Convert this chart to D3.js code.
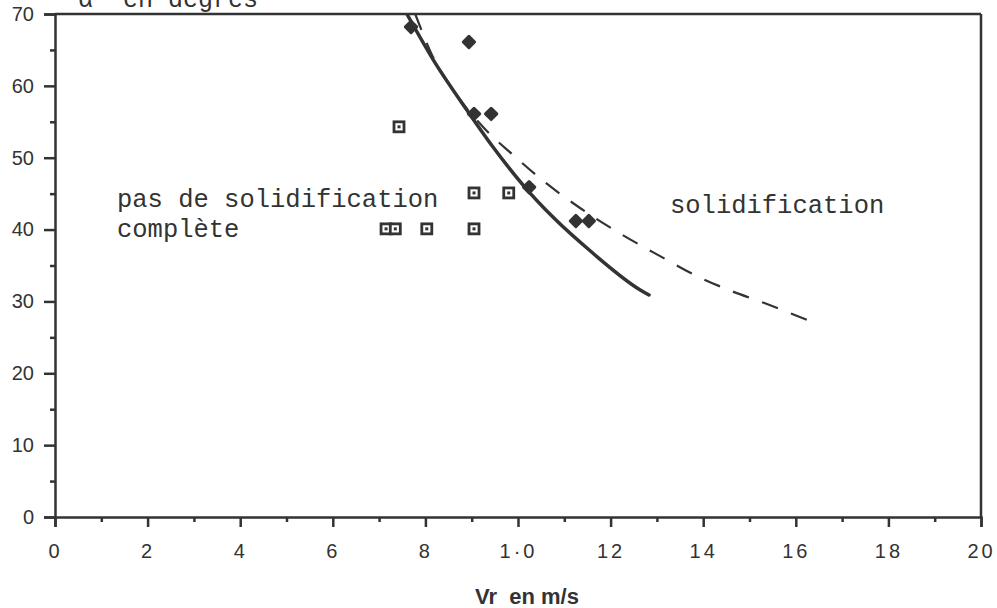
<!DOCTYPE html>
<html>
<head>
<meta charset="utf-8">
<script src="https://cdn.jsdelivr.net/npm/d3@7"></script>
<style>
  body { margin: 0; background: #fff; }
  svg { display: block; }
</style>
</head>
<body>
<div id="chart"></div>
<script>
// values
const xTickValues = [0, 2, 4, 6, 8, 10, 12, 14, 16, 18, 20]
const xTickLabels = ['0', '2', '4', '6', '8', '1·0', '12', '14', '16', '18', '20']
const yTickValues = [0, 10, 20, 30, 40, 50, 60, 70]

// open squares: no complete solidification
const squareV = [7.43, 9.05, 9.8, 7.15, 7.35, 8.03, 9.05]
const squareA = [54.3, 45.1, 45.1, 40.1, 40.1, 40.1, 40.1]

// filled diamonds: solidification
const diamondV = [7.69, 8.94, 9.05, 9.42, 10.24, 11.25, 11.53]
const diamondA = [68.2, 66.1, 56.1, 56.1, 45.9, 41.2, 41.2]

// solid curve
const solidV = [7.6, 8.2, 8.9, 9.46, 10.11, 10.76, 11.62, 12.64, 12.83]
const solidA = [70.0, 63.3, 56.6, 51.5, 46.2, 41.7, 36.7, 31.6, 30.9]

// dashed curve
const dashV = [7.78, 8.15, 8.6, 9.27, 9.89, 10.54, 11.34, 12.22, 13.07, 13.84, 14.55, 15.35, 16.41]
const dashA = [70.0, 64.2, 59.4, 54.1, 50.4, 46.8, 43.0, 39.4, 36.3, 33.6, 31.6, 29.7, 27.0]

const W = 997, H = 608
const ink = '#333'

let svg = d3.select('#chart').append('svg')
    .attr('width', W)
    .attr('height', H)

let x = d3.scaleLinear().domain([0, 20]).range([55, 981])
let y = d3.scaleLinear().domain([0, 70]).range([517, 14])

svg.append('clipPath').attr('id', 'plot')
    .append('rect')
    .attr('x', x(0)).attr('y', y(70))
    .attr('width', x(20) - x(0)).attr('height', y(0) - y(70))

// frame: top and right border
svg.append('line')
    .attr('x1', x(0)).attr('x2', x(20))
    .attr('y1', y(70)).attr('y2', y(70))
    .attr('stroke', ink).attr('stroke-width', 2.5)
svg.append('line')
    .attr('x1', x(20)).attr('x2', x(20))
    .attr('y1', y(70)).attr('y2', y(0))
    .attr('stroke', ink).attr('stroke-width', 2.5)

// minor ticks first
let xMinor = d3.axisBottom(x).tickValues(d3.range(1, 20, 2)).tickSize(5).tickFormat('')
svg.append('g').attr('class', 'xminor')
    .attr('transform', `translate(0,${y(0)})`)
    .call(xMinor)
let yMinor = d3.axisLeft(y).tickValues(d3.range(5, 70, 10)).tickSize(5).tickFormat('')
svg.append('g').attr('class', 'yminor')
    .attr('transform', `translate(${x(0)},0)`)
    .call(yMinor)

let xAxis = d3.axisBottom(x).tickValues(xTickValues).tickSize(10).tickPadding(17)
    .tickFormat((d, i) => xTickLabels[i])
let gx = svg.append('g')
    .attr('transform', `translate(0,${y(0)})`)
    .call(xAxis)
gx.selectAll('text')
    .attr('font-family', 'Liberation Sans, Arial, sans-serif')
    .attr('font-size', 20)
    .attr('letter-spacing', 3)
    .attr('fill', ink)

let yAxis = d3.axisLeft(y).tickValues(yTickValues).tickSize(11).tickPadding(10)
let gy = svg.append('g')
    .attr('transform', `translate(${x(0)},0)`)
    .call(yAxis)
gy.selectAll('text')
    .attr('font-family', 'Liberation Sans, Arial, sans-serif')
    .attr('font-size', 20)
    .attr('fill', ink)

svg.selectAll('.domain').attr('stroke', ink).attr('stroke-width', 2.5)
svg.selectAll('.tick line').attr('stroke', ink).attr('stroke-width', 2.5)
svg.selectAll('.xminor .domain, .yminor .domain').remove()

// curves
let solidData = solidV.map((v, i) => ({v: v, a: solidA[i]}))
let dashData = dashV.map((v, i) => ({v: v, a: dashA[i]}))
let line = d3.line()
    .x(d => x(d.v))
    .y(d => y(d.a))
    .curve(d3.curveMonotoneX)

svg.append('path')
    .attr('d', line(solidData))
    .attr('clip-path', 'url(#plot)')
    .attr('fill', 'none')
    .attr('stroke', ink)
    .attr('stroke-width', 3.5)
    .attr('stroke-linecap', 'round')

svg.append('path')
    .attr('d', line(dashData))
    .attr('clip-path', 'url(#plot)')
    .attr('fill', 'none')
    .attr('stroke', ink)
    .attr('stroke-width', 2.2)
    .attr('stroke-dasharray', '17,14')

// squares
let squares = svg.selectAll('g.sq')
    .data(squareV.map((v, i) => ({v: v, a: squareA[i]})))
    .enter().append('g')
    .attr('class', 'sq')
    .attr('transform', d => `translate(${x(d.v)},${y(d.a)})`)
squares.append('rect')
    .attr('x', -5).attr('y', -5)
    .attr('width', 10).attr('height', 10)
    .attr('fill', '#fff')
    .attr('stroke', ink)
    .attr('stroke-width', 2.8)
squares.append('rect')
    .attr('x', -1.5).attr('y', -1.5)
    .attr('width', 3).attr('height', 3)
    .attr('fill', ink)

// diamonds
svg.selectAll('path.dm')
    .data(diamondV.map((v, i) => ({v: v, a: diamondA[i]})))
    .enter().append('path')
    .attr('class', 'dm')
    .attr('transform', d => `translate(${x(d.v)},${y(d.a)}) rotate(45)`)
    .attr('d', d3.symbol().type(d3.symbolSquare).size(64))
    .attr('fill', ink)
    .attr('stroke', ink)
    .attr('stroke-width', 3)
    .attr('stroke-linejoin', 'round')

// labels
let mono = 'Liberation Mono, Courier New, monospace'
svg.append('text')
    .attr('x', 78).attr('y', 7)
    .attr('font-family', mono).attr('font-size', 25).attr('fill', ink)
    .attr('xml:space', 'preserve')
    .text('α  en degrés')

svg.append('text')
    .attr('x', 117).attr('y', 207)
    .attr('font-family', mono).attr('font-size', 25.5).attr('fill', ink)
    .text('pas de solidification')
svg.append('text')
    .attr('x', 117).attr('y', 237)
    .attr('font-family', mono).attr('font-size', 25.5).attr('fill', ink)
    .text('complète')
svg.append('text')
    .attr('x', 670).attr('y', 213)
    .attr('font-family', mono).attr('font-size', 25.5).attr('fill', ink)
    .text('solidification')

svg.append('text')
    .attr('x', 527).attr('y', 604)
    .attr('text-anchor', 'middle')
    .attr('font-family', 'Liberation Sans, Arial, sans-serif')
    .attr('font-weight', 'bold')
    .attr('font-size', 22)
    .attr('fill', ink)
    .attr('xml:space', 'preserve')
    .text('Vr  en m/s')
</script>
</body>
</html>
